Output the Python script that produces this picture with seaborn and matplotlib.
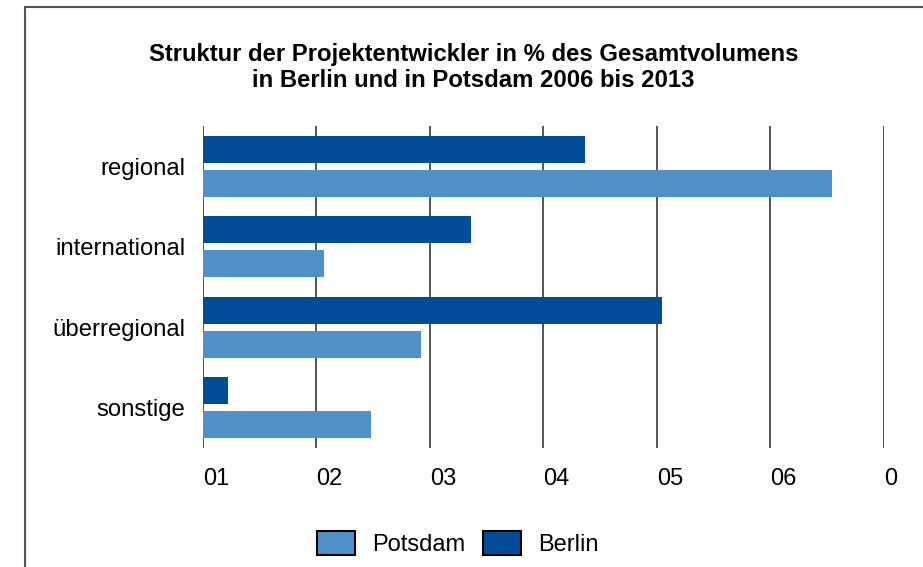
import pandas as pd
import matplotlib.pyplot as plt
import seaborn as sns
from matplotlib.patches import Rectangle, Patch

sns.set_theme(style="white")
plt.rcParams['font.family'] = ['Liberation Sans', 'DejaVu Sans']
plt.rcParams['text.color'] = 'black'
plt.rcParams['xtick.color'] = 'black'
plt.rcParams['ytick.color'] = 'black'

categories = ['regional', 'international', 'überregional', 'sonstige']
berlin = [33.7, 23.6, 40.4, 2.2]
potsdam = [55.4, 10.7, 19.2, 14.8]
tick_pos = [0, 10, 20, 30, 40, 50, 60]
tick_labels = ['01', '02', '03', '04', '05', '06', '0']
colors = {'Berlin': '#034C98', 'Potsdam': '#4F91C8'}

df = pd.DataFrame({
    'Kategorie': categories * 2,
    'Wert': berlin + potsdam,
    'Stadt': ['Berlin'] * 4 + ['Potsdam'] * 4,
})

fig = plt.figure(figsize=(9.23, 5.67), dpi=100)
ax = fig.add_axes([0.2199, 0.2099, 0.7378, 0.5679])

sns.barplot(data=df, x='Wert', y='Kategorie', hue='Stadt', order=categories,
            hue_order=['Berlin', 'Potsdam'], palette=colors, width=0.844,
            gap=0.215, saturation=1, linewidth=0, ax=ax, legend=False)

ax.set_xlim(0, 60)
ax.set_xticks(tick_pos)
ax.set_xticklabels(tick_labels, ha='left', fontsize=17)
ax.tick_params(axis='x', length=0, pad=14.5)
ax.tick_params(axis='y', length=0, pad=12.5, labelsize=17.2)
ax.set_xlabel('')
ax.set_ylabel('')
for x in tick_pos:
    ax.axvline(x, color='#555555', lw=1.4, zorder=0)
for s in ax.spines.values():
    s.set_visible(False)

fig.text(0.513, 0.881, 'Struktur der Projektentwickler in % des Gesamtvolumens\n'
         'in Berlin und in Potsdam 2006 bis 2013',
         ha='center', va='center', fontsize=17.2, fontweight='bold',
         linespacing=1.2)

handles = [Patch(facecolor=colors['Potsdam'], edgecolor='black', linewidth=1.5),
           Patch(facecolor=colors['Berlin'], edgecolor='black', linewidth=1.5)]
fig.legend(handles, ['Potsdam', 'Berlin'], loc='center', bbox_to_anchor=(0.496, 0.042),
           ncol=2, frameon=False, fontsize=17, handlelength=1.61, handleheight=1.22,
           handletextpad=0.75, columnspacing=0.71)

fig.add_artist(Rectangle((25 / 923, -0.1), 1.2, 1 - 7 / 567 + 0.1,
                         transform=fig.transFigure, fill=False,
                         edgecolor='#555555', lw=1.5))

fig.savefig('out.png', dpi=100)
